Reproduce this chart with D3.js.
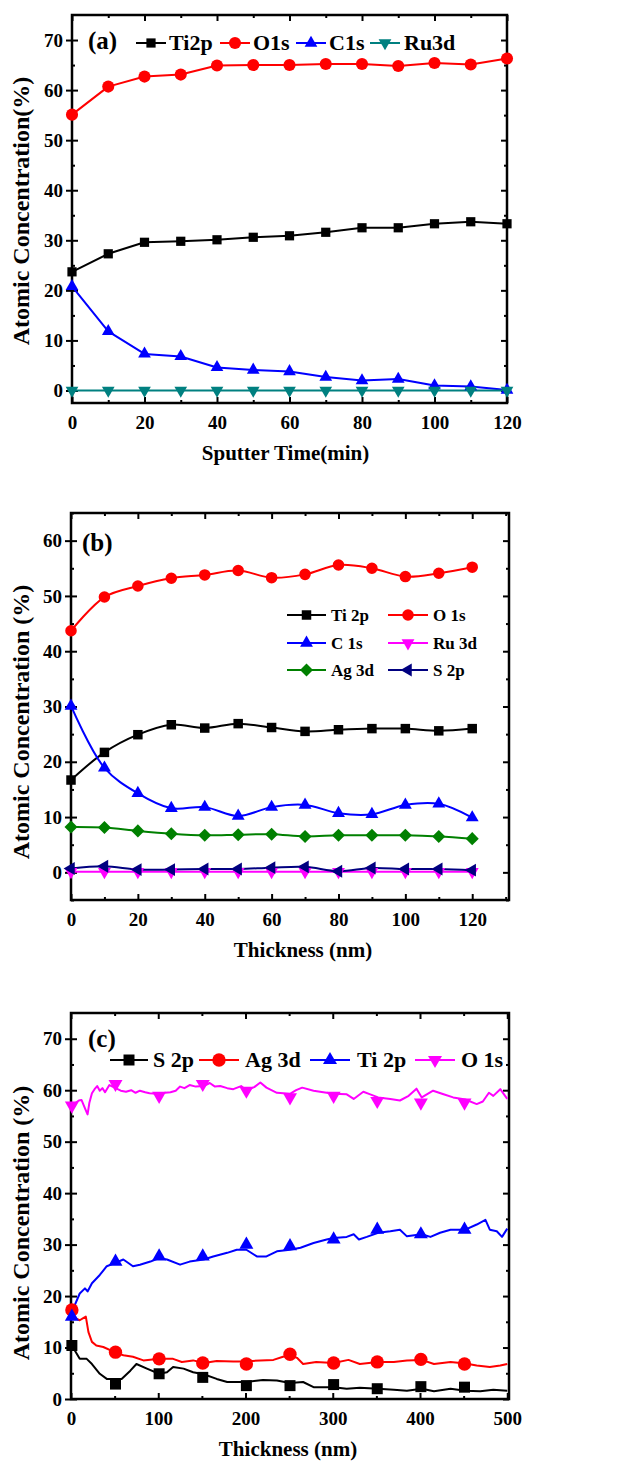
<!DOCTYPE html>
<html lang="en">
<head>
<meta charset="utf-8">
<script src="https://d3js.org/d3.v7.min.js"></script>
<style>
  body { margin: 0; background: #fff; }
  text { font-family: "Liberation Serif", "Times New Roman", Times, "DejaVu Serif", serif; font-weight: bold; fill: #000; }
</style>
</head>
<body>
<script>
// ---------- panel (a) data ----------
var sputterTime = [0, 10, 20, 30, 40, 50, 60, 70, 80, 90, 100, 110, 120];
var aTi2p = [23.7, 27.3, 29.6, 29.8, 30.1, 30.6, 30.9, 31.6, 32.5, 32.5, 33.3, 33.7, 33.3];
var aO1s  = [55.1, 60.7, 62.7, 63.1, 64.9, 65.0, 65.0, 65.2, 65.2, 64.8, 65.4, 65.1, 66.3];
var aC1s  = [20.8, 11.8, 7.3, 6.8, 4.6, 4.1, 3.8, 2.7, 2.0, 2.3, 1.0, 0.8, 0.1];
var aRu3d = [0, 0, 0, 0, 0, 0, 0, 0, 0, 0, 0, 0, 0];

// ---------- panel (b) data ----------
var thicknessB = [0, 10, 20, 30, 40, 50, 60, 70, 80, 90, 100, 110, 120];
var bTi2p = [16.7, 21.7, 24.9, 26.7, 26.1, 26.9, 26.2, 25.5, 25.8, 26.0, 26.0, 25.6, 26.0];
var bO1s  = [43.7, 49.8, 51.8, 53.2, 53.8, 54.6, 53.3, 53.9, 55.6, 55.0, 53.5, 54.1, 55.2];
var bC1s  = [30.1, 18.9, 14.3, 11.6, 11.8, 10.2, 11.8, 12.2, 10.7, 10.5, 12.2, 12.4, 9.9];
var bRu3d = [0.1, 0.1, 0.1, 0.1, 0.1, 0.1, 0.1, 0.1, 0.1, 0.1, 0.1, 0.1, 0.1];
var bAg3d = [8.2, 8.1, 7.5, 7.0, 6.7, 6.8, 6.9, 6.5, 6.7, 6.7, 6.7, 6.5, 6.1];
var bS2p  = [0.7, 1.1, 0.5, 0.5, 0.6, 0.6, 0.85, 1.0, 0.2, 0.8, 0.6, 0.6, 0.4];

// ---------- panel (c) data (continuous profiles) ----------
var cO1sX = [0, 5, 9, 12, 17, 19, 21, 24, 27, 30, 33, 36, 39, 44, 50, 57, 63, 69, 74, 79, 85, 90, 100, 108, 114, 120, 125, 130, 136, 143, 152, 159, 165, 171, 179, 186, 195, 201, 210, 217, 224, 236, 251, 258, 265, 278, 293, 301, 316, 324, 335, 343, 352, 366, 377, 387, 396, 402, 415, 427, 438, 452, 465, 472, 479, 484, 492, 500];
var cO1sY = [56.5, 57.5, 58, 58.1, 56.1, 55.3, 57.5, 59.4, 60.2, 60.8, 59.9, 60.4, 59.6, 61, 60.5, 59.9, 59.7, 60, 59.5, 59.9, 59.6, 59.4, 59.3, 59.5, 59.6, 59.9, 60.7, 60.4, 61, 60.7, 60.8, 61.4, 60.7, 60.8, 60.4, 60.2, 60.8, 60.0, 60.6, 61.5, 60.5, 59.5, 59.3, 60.0, 60.5, 59.9, 59.5, 59.3, 59.2, 58.3, 59.7, 59.2, 58.6, 58.3, 58.0, 58.9, 60.3, 58.6, 59.9, 59.2, 58.6, 58.2, 57.3, 57.8, 59.5, 58.9, 60.2, 58.3];

var cTi2pX = [0, 2, 10, 16, 19, 24, 33, 41, 50, 60, 71, 79, 91, 101, 110, 125, 136, 152, 163, 179, 190, 201, 213, 224, 236, 251, 263, 278, 293, 301, 316, 324, 330, 339, 352, 366, 377, 385, 402, 412, 423, 435, 452, 465, 475, 480, 488, 494, 500];
var cTi2pY = [16.0, 17.3, 20.5, 21.5, 20.9, 22.5, 24.1, 25.8, 26.4, 27.1, 25.8, 26.1, 26.7, 27.4, 27.1, 26.1, 26.7, 27.1, 27.7, 28.4, 29.0, 29.0, 27.7, 27.7, 28.7, 29.0, 29.4, 30.3, 31.0, 31.3, 31.5, 32.0, 31.0, 31.5, 32.3, 32.6, 32.9, 31.6, 32.0, 31.5, 32.3, 32.9, 32.9, 33.9, 34.8, 32.9, 32.6, 31.5, 33.1];

var cAg3dX = [0, 1, 10, 14, 17, 20, 24, 29, 37, 50, 60, 71, 83, 101, 117, 127, 140, 152, 167, 186, 201, 217, 232, 243, 251, 259, 266, 281, 301, 318, 331, 352, 370, 385, 402, 416, 435, 452, 465, 480, 492, 500];
var cAg3dY = [17.3, 16.0, 15.3, 15.7, 16.0, 13.0, 11.1, 10.4, 10.1, 9.1, 8.5, 8.2, 7.5, 7.8, 7.8, 7.2, 7.5, 7.0, 7.4, 7.3, 7.3, 7.5, 7.6, 8.2, 8.5, 8.0, 6.8, 7.2, 7.0, 7.6, 6.8, 7.2, 7.2, 7.5, 7.6, 6.8, 7.2, 6.9, 6.5, 6.2, 6.5, 6.8];

var cS2pX = [1, 3, 10, 18, 24, 33, 41, 50, 58, 68, 75, 87, 101, 110, 117, 129, 140, 152, 167, 179, 186, 201, 220, 236, 251, 266, 278, 301, 316, 331, 352, 370, 385, 402, 416, 435, 452, 469, 484, 500];
var cS2pY = [10.4, 9.8, 7.8, 7.8, 6.8, 4.9, 3.9, 3.9, 3.9, 5.5, 6.8, 5.9, 4.9, 5.2, 6.2, 5.9, 5.2, 4.8, 3.9, 3.3, 3.3, 3.3, 3.7, 3.6, 3.1, 3.3, 2.3, 2.3, 2.0, 2.2, 2.0, 1.8, 1.6, 2.0, 1.5, 2.0, 1.6, 1.5, 1.8, 1.6];

// symbols in (c) sit every 50 nm
var cMarkX = [1, 51, 101, 151, 201, 251, 301, 351, 401, 451];
var cS2pMark  = [10.4, 2.9, 4.9, 4.2, 2.6, 2.6, 2.8, 2.0, 2.4, 2.3];
var cAg3dMark = [17.3, 9.1, 7.8, 7.0, 6.8, 8.7, 7.0, 7.2, 7.7, 6.8];
var cTi2pMark = [16.0, 26.7, 27.7, 27.7, 30.0, 29.7, 31.0, 32.9, 32.0, 32.9];
var cO1sMark  = [57.0, 61.2, 58.9, 61.2, 59.9, 58.6, 58.9, 57.9, 57.6, 57.6];

var serif = '"Liberation Serif", "Times New Roman", Times, "DejaVu Serif", serif';

var svg = d3.select("body").append("svg")
    .attr("width", 627)
    .attr("height", 1467);

// marker shapes
function symPath(shape, size) {
    var type = d3.symbolSquare;
    if (shape == "circle") type = d3.symbolCircle;
    if (shape == "up" || shape == "down" || shape == "left") type = d3.symbolTriangle;
    return d3.symbol().type(type).size(size)();
}
function symRot(shape) {
    if (shape == "down") return 180;
    if (shape == "left") return -90;
    if (shape == "diamond") return 45;
    return 0;
}

function drawMarkers(g, pts, s, x, y) {
    g.selectAll(null)
        .data(pts)
        .enter()
        .append("path")
        .attr("d", symPath(s.shape, s.size))
        .attr("transform", function (d) {
            return "translate(" + x(d[0]) + "," + y(d[1]) + ") rotate(" + symRot(s.shape) + ")";
        })
        .attr("fill", s.color);
}

function noDomain(a) { a.select(".domain").remove(); }

function drawPanel(p) {
    var g = svg.append("g");
    var x = d3.scaleLinear().domain(p.xDomain).range([p.left, p.right]);
    var y = d3.scaleLinear().domain(p.yDomain).range([p.bottom, p.top]);

    // bottom: labels with inward ticks
    g.append("g").attr("transform", "translate(0," + p.bottom + ")")
        .call(d3.axisBottom(x).tickValues(p.xTicks).tickSize(-6).tickPadding(13)).call(noDomain);
    g.append("g").attr("transform", "translate(0," + p.bottom + ")")
        .call(d3.axisBottom(x).tickValues(p.xMinor).tickSize(-3).tickFormat("")).call(noDomain);
    // top mirror
    g.append("g").attr("transform", "translate(0," + p.top + ")")
        .call(d3.axisTop(x).tickValues(p.xTicks).tickSize(-6).tickFormat("")).call(noDomain);
    g.append("g").attr("transform", "translate(0," + p.top + ")")
        .call(d3.axisTop(x).tickValues(p.xMinor).tickSize(-3).tickFormat("")).call(noDomain);
    // left: outward ticks with labels plus inward ticks
    g.append("g").attr("transform", "translate(" + p.left + ",0)")
        .call(d3.axisLeft(y).tickValues(p.yTicks).tickSize(6).tickPadding(3)).call(noDomain);
    g.append("g").attr("transform", "translate(" + p.left + ",0)")
        .call(d3.axisRight(y).tickValues(p.yTicks).tickSize(6).tickFormat("")).call(noDomain);
    g.append("g").attr("transform", "translate(" + p.left + ",0)")
        .call(d3.axisRight(y).tickValues(p.yMinor).tickSize(3).tickFormat("")).call(noDomain);
    // right mirror
    g.append("g").attr("transform", "translate(" + p.right + ",0)")
        .call(d3.axisLeft(y).tickValues(p.yTicks).tickSize(6).tickFormat("")).call(noDomain);
    g.append("g").attr("transform", "translate(" + p.right + ",0)")
        .call(d3.axisLeft(y).tickValues(p.yMinor).tickSize(3).tickFormat("")).call(noDomain);

    g.selectAll("g").attr("font-family", serif);
    g.selectAll(".tick line").attr("stroke", "#000").attr("stroke-width", 2);
    g.selectAll(".tick text")
        .attr("font-family", serif)
        .style("font-size", "19px")
        .style("font-weight", "bold");

    g.append("rect")
        .attr("x", p.left).attr("y", p.top)
        .attr("width", p.right - p.left).attr("height", p.bottom - p.top)
        .attr("fill", "none").attr("stroke", "#000").attr("stroke-width", 2.5);

    // series
    p.series.forEach(function (s) {
        var pts = s.xs.map(function (v, i) { return [v, s.ys[i]]; });
        var line = d3.line()
            .x(function (d) { return x(d[0]); })
            .y(function (d) { return y(d[1]); })
            .curve(p.curve || d3.curveLinear);
        g.append("path").datum(pts)
            .attr("d", line)
            .attr("fill", "none")
            .attr("stroke", s.color)
            .attr("stroke-width", 2)
            .attr("stroke-linejoin", "round");
    });
    p.series.forEach(function (s) {
        var mpts;
        if (s.mx) mpts = s.mx.map(function (v, i) { return [v, s.my[i]]; });
        else mpts = s.xs.map(function (v, i) { return [v, s.ys[i]]; });
        drawMarkers(g, mpts, s, x, y);
    });

    // legend
    p.legend.forEach(function (l) {
        var s = p.series[l.i];
        g.append("line")
            .attr("x1", l.x).attr("x2", l.x + l.w)
            .attr("y1", l.y).attr("y2", l.y)
            .attr("stroke", s.color).attr("stroke-width", 2);
        g.append("path")
            .attr("d", symPath(s.shape, s.size))
            .attr("transform", "translate(" + (l.x + l.w / 2) + "," + l.y + ") rotate(" + symRot(s.shape) + ")")
            .attr("fill", s.color);
        g.append("text")
            .attr("x", l.x + l.w + l.gap)
            .attr("y", l.y + l.fs * 0.33)
            .style("font-size", l.fs + "px")
            .text(s.name);
    });

    // panel label and axis titles
    g.append("text").attr("x", p.tagX).attr("y", p.tagY)
        .style("font-size", "25px").text(p.tag);
    g.append("text")
        .attr("x", (p.left + p.right) / 2 + p.xTitleShift)
        .attr("y", p.bottom + 57)
        .attr("text-anchor", "middle")
        .style("font-size", "21px")
        .text(p.xTitle);
    g.append("text")
        .attr("transform", "translate(29," + p.yTitleY + ") rotate(-90)")
        .attr("text-anchor", "middle")
        .style("font-size", "24px")
        .text(p.yTitle);
}

// ---------- panel (a) ----------
drawPanel({
    left: 72, right: 507, top: 15, bottom: 403,
    xDomain: [0, 120], yDomain: [-2.5, 75],
    xTicks: [0, 20, 40, 60, 80, 100, 120], xMinor: [10, 30, 50, 70, 90, 110],
    yTicks: [0, 10, 20, 30, 40, 50, 60, 70], yMinor: [5, 15, 25, 35, 45, 55, 65],
    series: [
        { name: "Ti2p", xs: sputterTime, ys: aTi2p, color: "#000000", shape: "square", size: 85 },
        { name: "O1s", xs: sputterTime, ys: aO1s, color: "#ff0000", shape: "circle", size: 115 },
        { name: "C1s", xs: sputterTime, ys: aC1s, color: "#0000ff", shape: "up", size: 70 },
        { name: "Ru3d", xs: sputterTime, ys: aRu3d, color: "#008080", shape: "down", size: 70 }
    ],
    legend: [
        { i: 0, x: 136, y: 43, w: 30, gap: 3, fs: 22 },
        { i: 1, x: 220, y: 43, w: 30, gap: 3, fs: 22 },
        { i: 2, x: 296, y: 43, w: 30, gap: 3, fs: 22 },
        { i: 3, x: 370, y: 43, w: 30, gap: 4, fs: 22 }
    ],
    tag: "(a)", tagX: 88, tagY: 49,
    xTitle: "Sputter Time(min)", xTitleShift: -4,
    yTitle: "Atomic Concentration(%)", yTitleY: 211
});

// ---------- panel (b) ----------
drawPanel({
    left: 71, right: 509, top: 513, bottom: 900,
    xDomain: [0, 131], yDomain: [-5, 65],
    xTicks: [0, 20, 40, 60, 80, 100, 120], xMinor: [10, 30, 50, 70, 90, 110, 130],
    yTicks: [0, 10, 20, 30, 40, 50, 60], yMinor: [-5, 5, 15, 25, 35, 45, 55, 65],
    curve: d3.curveCatmullRom.alpha(0.5),
    series: [
        { name: "Ti 2p", xs: thicknessB, ys: bTi2p, color: "#000000", shape: "square", size: 90 },
        { name: "O 1s", xs: thicknessB, ys: bO1s, color: "#ff0000", shape: "circle", size: 105 },
        { name: "C 1s", xs: thicknessB, ys: bC1s, color: "#0000ff", shape: "up", size: 72 },
        { name: "Ru 3d", xs: thicknessB, ys: bRu3d, color: "#ff00ff", shape: "down", size: 72 },
        { name: "Ag 3d", xs: thicknessB, ys: bAg3d, color: "#008000", shape: "diamond", size: 85 },
        { name: "S 2p", xs: thicknessB, ys: bS2p, color: "#000080", shape: "left", size: 72 }
    ],
    legend: [
        { i: 0, x: 287, y: 615, w: 39, gap: 5, fs: 17 },
        { i: 1, x: 388, y: 615, w: 40, gap: 5, fs: 17 },
        { i: 2, x: 287, y: 643, w: 39, gap: 5, fs: 17 },
        { i: 3, x: 388, y: 643, w: 40, gap: 5, fs: 17 },
        { i: 4, x: 287, y: 670, w: 39, gap: 5, fs: 17 },
        { i: 5, x: 388, y: 670, w: 40, gap: 5, fs: 17 }
    ],
    tag: "(b)", tagX: 82, tagY: 551,
    xTitle: "Thickness (nm)", xTitleShift: 13,
    yTitle: "Atomic Concentration (%)", yTitleY: 722
});

// ---------- panel (c) ----------
drawPanel({
    left: 71, right: 509, top: 1013, bottom: 1399,
    xDomain: [0, 502], yDomain: [0, 75],
    xTicks: [0, 100, 200, 300, 400, 500], xMinor: [50, 150, 250, 350, 450],
    yTicks: [0, 10, 20, 30, 40, 50, 60, 70], yMinor: [5, 15, 25, 35, 45, 55, 65],
    series: [
        { name: "S 2p", xs: cS2pX, ys: cS2pY, mx: cMarkX, my: cS2pMark, color: "#000000", shape: "square", size: 121 },
        { name: "Ag 3d", xs: cAg3dX, ys: cAg3dY, mx: cMarkX, my: cAg3dMark, color: "#ff0000", shape: "circle", size: 140 },
        { name: "Ti 2p", xs: cTi2pX, ys: cTi2pY, mx: cMarkX, my: cTi2pMark, color: "#0000ff", shape: "up", size: 85 },
        { name: "O 1s", xs: cO1sX, ys: cO1sY, mx: cMarkX, my: cO1sMark, color: "#ff00ff", shape: "down", size: 85 }
    ],
    legend: [
        { i: 0, x: 110, y: 1060, w: 38, gap: 5, fs: 22 },
        { i: 1, x: 199, y: 1060, w: 40, gap: 6, fs: 22 },
        { i: 2, x: 310, y: 1060, w: 40, gap: 7, fs: 22 },
        { i: 3, x: 415, y: 1060, w: 40, gap: 6, fs: 22 }
    ],
    tag: "(c)", tagX: 88, tagY: 1047,
    xTitle: "Thickness (nm)", xTitleShift: -2,
    yTitle: "Atomic Concentration (%)", yTitleY: 1223
});
</script>
</body>
</html>
